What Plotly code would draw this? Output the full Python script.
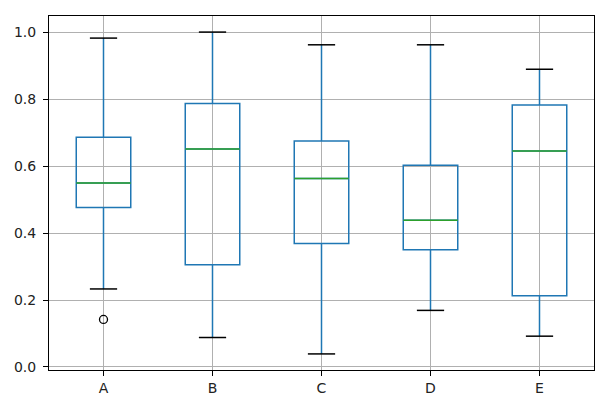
import plotly.graph_objects as go

# box statistics (pandas-style boxplot)
CATEGORIES = ["A", "B", "C", "D", "E"]
LOWER_WHISKER = [0.233, 0.088, 0.039, 0.169, 0.092]
Q1 = [0.476, 0.305, 0.369, 0.350, 0.213]
MEDIAN = [0.549, 0.651, 0.563, 0.438, 0.645]
Q3 = [0.686, 0.787, 0.675, 0.602, 0.782]
UPPER_WHISKER = [0.982, 1.000, 0.962, 0.962, 0.889]
OUTLIER_CAT = ["A"]
OUTLIER_VAL = [0.142]

BLUE = "#1f77b4"
GREEN = "#2ca02c"
BOX_W = 0.5
CAP_W = 0.25

pos = list(range(1, len(CATEGORIES) + 1))
fig = go.Figure()

fig.add_trace(
    go.Box(
        x=pos,
        q1=Q1,
        median=MEDIAN,
        q3=Q3,
        lowerfence=LOWER_WHISKER,
        upperfence=UPPER_WHISKER,
        width=BOX_W,
        whiskerwidth=0,
        fillcolor="rgba(0,0,0,0)",
        line=dict(color=BLUE, width=1.5),
        boxpoints=False,
        showlegend=False,
        hoverinfo="skip",
    )
)


def segments(values, half):
    xs, ys = [], []
    for p, v in zip(pos, values):
        xs += [p - half, p + half, None]
        ys += [v, v, None]
    return xs, ys


# whisker caps (black)
ux, uy = segments(UPPER_WHISKER, CAP_W / 2)
lx, ly = segments(LOWER_WHISKER, CAP_W / 2)
fig.add_trace(go.Scatter(x=ux + lx, y=uy + ly, mode="lines",
                         line=dict(color="black", width=1.5),
                         showlegend=False, hoverinfo="skip"))

# medians (green)
mx, my = segments(MEDIAN, BOX_W / 2)
fig.add_trace(go.Scatter(x=mx, y=my, mode="lines",
                         line=dict(color=GREEN, width=1.5),
                         showlegend=False, hoverinfo="skip"))

fig.add_trace(go.Scatter(
    x=[CATEGORIES.index(c) + 1 for c in OUTLIER_CAT],
    y=OUTLIER_VAL,
    mode="markers",
    marker=dict(symbol="circle-open", size=8, color="black", line=dict(width=1.3)),
    showlegend=False, hoverinfo="skip",
))

axis_common = dict(
    showline=True, mirror=True, linecolor="black", linewidth=1,
    showgrid=True, gridcolor="#b0b0b0", gridwidth=0.8,
    ticks="outside", ticklen=5, tickcolor="black",
    zeroline=False, automargin=False,
    tickfont=dict(family="DejaVu Sans", size=14, color="#222222"),
)

# page body has an 8px margin, so margins are shifted to compensate
fig.update_layout(
    width=606, height=405,
    margin=dict(l=41, r=20, t=8, b=43),
    paper_bgcolor="white", plot_bgcolor="white",
    xaxis=dict(range=[0.5, 5.5], tickvals=pos, ticktext=CATEGORIES, **axis_common),
    yaxis=dict(range=[-0.009, 1.048], tickvals=[0, 0.2, 0.4, 0.6, 0.8, 1.0],
               tickformat=".1f", ticklabelstandoff=4, **axis_common),
)

fig.write_html("out.html")
